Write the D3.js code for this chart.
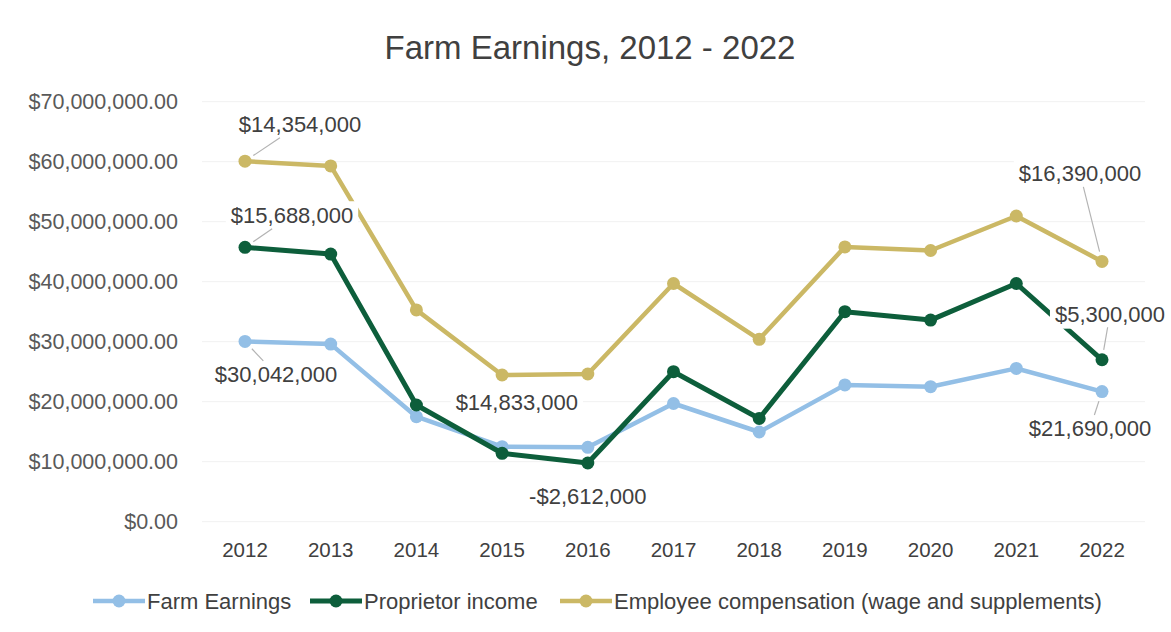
<!DOCTYPE html>
<html>
<head>
<meta charset="utf-8">
<script src="https://cdn.jsdelivr.net/npm/d3@7"></script>
<style>
  html, body { margin: 0; padding: 0; background: #fff; }
  svg { display: block; font-family: "Liberation Sans", Arial, sans-serif; }
</style>
</head>
<body>
<svg id="chart" width="1171" height="632"></svg>
<script>
// ---- Data (stacked line chart: each series is stacked on the previous one) ----
const years = ["2012","2013","2014","2015","2016","2017","2018","2019","2020","2021","2022"];
// component values in dollars
const farmEarnings     = [30042000, 29600000, 17500000, 12500000, 12400000, 19700000, 14950000, 22800000, 22500000, 25550000, 21690000];
const proprietorIncome = [15688000, 15000000,  1950000, -1100000, -2612000,  5300000,  2250000, 12200000, 11100000, 14150000,  5300000];
const employeeComp     = [14354000, 14700000, 15850000, 13050000, 14833000, 14700000, 13200000, 10800000, 11600000, 11250000, 16390000];
const seriesNames  = ["Farm Earnings", "Proprietor income", "Employee compensation (wage and supplements)"];
const yTicks = [0, 10000000, 20000000, 30000000, 40000000, 50000000, 60000000, 70000000];
const title = "Farm Earnings, 2012 - 2022";

// labelled points: series index, year index, offset of label centre from point, leader line?
const labelSpecs = [
  { s: 2, i: 0,  dx: 55,  dy: -37, leader: true },
  { s: 1, i: 0,  dx: 47,  dy: -32, leader: true },
  { s: 0, i: 0,  dx: 31,  dy: 33,  leader: true },
  { s: 2, i: 4,  dx: -71, dy: 28,  leader: false },
  { s: 1, i: 4,  dx: 0,   dy: 33,  leader: false },
  { s: 2, i: 10, dx: -22, dy: -88, leader: true },
  { s: 1, i: 10, dx: 8,   dy: -46, leader: true },
  { s: 0, i: 10, dx: -12, dy: 37,  leader: true }
];

const colors = ["#93bfe6", "#0d5e3b", "#cbb865"];
const widths = [4.5, 5, 4.5];

// ---- stacking ----
const components = [farmEarnings, proprietorIncome, employeeComp];
const stacked = [];
components.forEach((arr, s) => {
  stacked.push(arr.map((v, i) => (s === 0 ? 0 : stacked[s - 1][i]) + v));
});

const svg = d3.select("#chart");
const x = d3.scalePoint().domain(years).range([245, 1102]);
const y = d3.scaleLinear().domain([0, 70000000]).range([521.7, 101.7]);

// gridlines
svg.append("g").selectAll("line").data(yTicks).join("line")
  .attr("x1", 202).attr("x2", 1145)
  .attr("y1", d => y(d)).attr("y2", d => y(d))
  .attr("stroke", "#f1f1f1").attr("stroke-width", 1);

// y axis labels
const fmtY = d => "$" + d3.format(",.2f")(d);
svg.append("g").selectAll("text").data(yTicks).join("text")
  .attr("x", 178).attr("y", d => y(d)).attr("dy", "0.36em")
  .attr("text-anchor", "end")
  .attr("font-size", 21.5).attr("fill", "#595959")
  .text(fmtY);

// x axis labels
svg.append("g").selectAll("text").data(years).join("text")
  .attr("x", d => x(d)).attr("y", 557)
  .attr("text-anchor", "middle")
  .attr("font-size", 20.5).attr("fill", "#404040")
  .text(d => d);

// title
svg.append("text").attr("x", 590).attr("y", 59).attr("text-anchor", "middle")
  .attr("font-size", 33).attr("fill", "#404040").text(title);

// lines & markers
const line = d3.line().x((d, i) => x(years[i])).y(d => y(d));
[0, 1, 2].forEach(s => {
  const g = svg.append("g");
  g.append("path").datum(stacked[s]).attr("d", line)
    .attr("fill", "none").attr("stroke", colors[s]).attr("stroke-width", widths[s])
    .attr("stroke-linejoin", "round");
  g.selectAll("circle").data(stacked[s]).join("circle")
    .attr("cx", (d, i) => x(years[i])).attr("cy", d => y(d))
    .attr("r", 6.5).attr("fill", colors[s]);
});

// data labels
const fmtL = d => (d < 0 ? "-$" : "$") + d3.format(",")(Math.abs(d));
const lg = svg.append("g");
labelSpecs.forEach(l => {
  const px = x(years[l.i]), py = y(stacked[l.s][l.i]);
  const cx = px + l.dx, cy = py + l.dy;
  const t = lg.append("text").attr("x", cx).attr("y", cy).attr("dy", "0.36em")
    .attr("text-anchor", "middle").attr("font-size", 22).attr("fill", "#404040")
    .text(fmtL(components[l.s][l.i]));
  const bb = t.node().getBBox();
  const pad = 5;
  lg.insert("rect", () => t.node())
    .attr("x", bb.x - pad).attr("y", bb.y - 2).attr("width", bb.width + 2 * pad).attr("height", bb.height + 4)
    .attr("fill", "#fff");
  if (l.leader) {
    // line from point toward label centre, ending at the label box edge
    const hw = bb.width / 2 + 2, hh = bb.height / 2 + 1;
    const vx = cx - px, vy = cy - py;
    const tEdge = Math.min(Math.abs(vx) > 0 ? (Math.abs(vx) - hw) / Math.abs(vx) : Infinity,
                           Math.abs(vy) > 0 ? (Math.abs(vy) - hh) / Math.abs(vy) : Infinity);
    const tE = Math.max(tEdge, (Math.abs(vx) > hw || Math.abs(vy) > hh) ?
      Math.max(Math.abs(vx) > hw ? (Math.abs(vx) - hw) / Math.abs(vx) : 0, Math.abs(vy) > hh ? (Math.abs(vy) - hh) / Math.abs(vy) : 0) : 0);
    const len = Math.hypot(vx, vy);
    const sx = px + vx / len * 10, sy = py + vy / len * 10;
    const ex = px + vx * tE, ey = py + vy * tE;
    lg.append("line").attr("x1", sx).attr("y1", sy).attr("x2", ex).attr("y2", ey)
      .attr("stroke", "#b3b3b3").attr("stroke-width", 1.2);
  }
});

// legend
const legendItems = [
  { s: 0, x0: 93 },
  { s: 1, x0: 310 },
  { s: 2, x0: 560 }
];
const leg = svg.append("g");
legendItems.forEach(it => {
  const ly = 601;
  leg.append("line").attr("x1", it.x0).attr("x2", it.x0 + 52).attr("y1", ly).attr("y2", ly)
    .attr("stroke", colors[it.s]).attr("stroke-width", widths[it.s]);
  leg.append("circle").attr("cx", it.x0 + 26).attr("cy", ly).attr("r", 6.5).attr("fill", colors[it.s]);
  leg.append("text").attr("x", it.x0 + 54).attr("y", ly).attr("dy", "0.36em")
    .attr("font-size", 22).attr("fill", "#404040").text(seriesNames[it.s]);
});
</script>
</body>
</html>
